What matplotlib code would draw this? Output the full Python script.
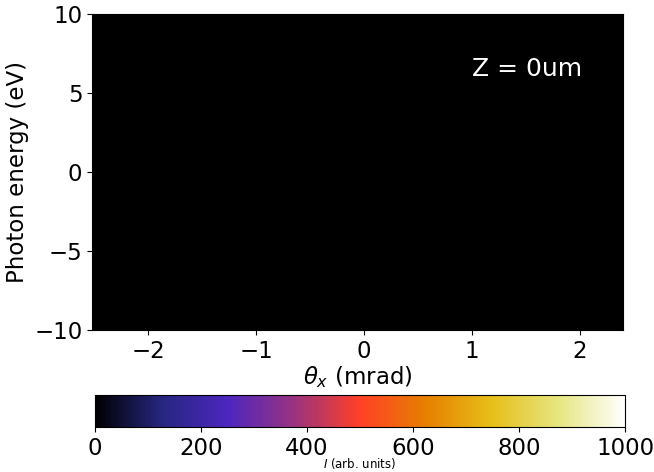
import numpy as np
import matplotlib
matplotlib.use('Agg')
import matplotlib.pyplot as plt

# angular and energy grid of the spectrum map
theta_x = np.linspace(-2.52, 2.40, 200)      # mrad
photon_energy = np.linspace(-10, 10, 200)    # eV
intensity = np.zeros((photon_energy.size, theta_x.size))  # arb. units, Z = 0um

vmin, vmax = 0, 1000
z_label = "Z = 0um"
fs = 16.5

fig = plt.figure(figsize=(6.54, 4.72), dpi=100)
ax = fig.add_axes([0.141, 0.301, 0.812, 0.669])
cax = fig.add_axes([0.145, 0.095, 0.811, 0.068])

im = ax.pcolormesh(theta_x, photon_energy, intensity, cmap='CMRmap',
                   vmin=vmin, vmax=vmax, shading='auto')
ax.set_xlim(theta_x[0], theta_x[-1])
ax.set_ylim(photon_energy[0], photon_energy[-1])
ax.set_xticks([-2, -1, 0, 1, 2])
ax.set_yticks([-10, -5, 0, 5, 10])
ax.tick_params(labelsize=fs)
ax.set_xlabel(r'$\theta_x$ (mrad)', fontsize=fs, labelpad=1)
ax.set_ylabel('Photon energy (eV)', fontsize=fs, labelpad=4)
ax.text(1.0, 6.5, z_label, color='white', fontsize=18, ha='left', va='center')

cb = fig.colorbar(im, cax=cax, orientation='horizontal')
cb.set_ticks([0, 200, 400, 600, 800, 1000])
cb.ax.tick_params(labelsize=fs)
cb.set_label(r'$I$ (arb. units)', fontsize=8.5, labelpad=-3)

fig.savefig('out.png', dpi=100)
